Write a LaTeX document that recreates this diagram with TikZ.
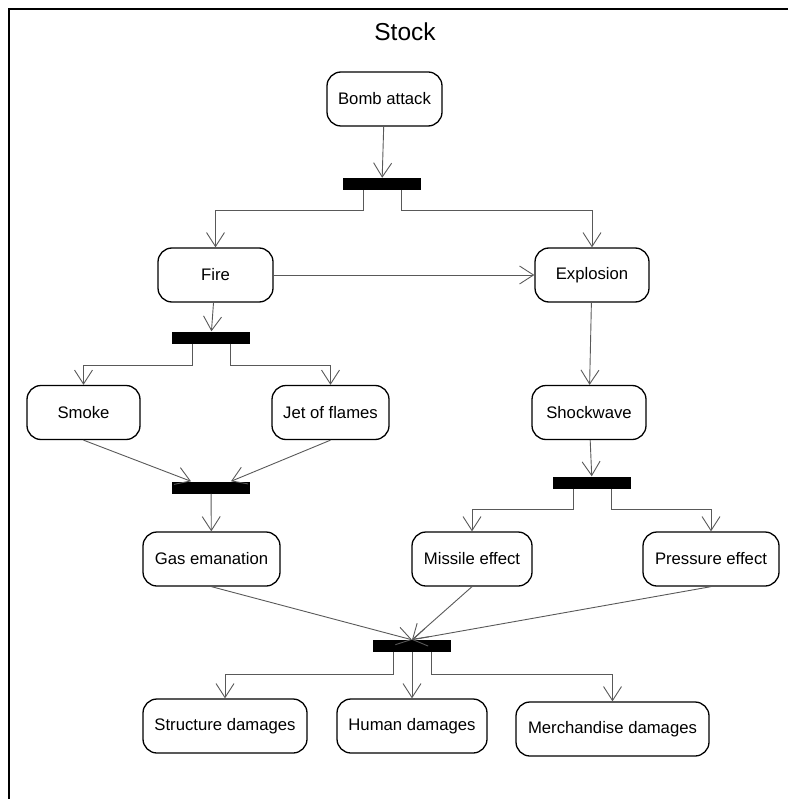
\documentclass[tikz,border=0pt]{standalone}
\usepackage{fontspec}
\setmainfont{Liberation Sans}
\usetikzlibrary{arrows.meta}
\tikzset{
action/.style=
    {rectangle,
    rounded corners=14pt,
    draw=black,
    line width=1.3pt,
    minimum height=54pt,
    inner sep=0pt,
    font=\fontsize{16.7}{19}\selectfont
    },
bar/.style=
    {rectangle,
    fill=black,
    minimum width=78pt,
    minimum height=12pt,
    inner sep=0pt
    },
flow/.style=
    {draw=black!65,
    line width=0.9pt,
    -{Straight Barb[length=14pt,width=18pt,line width=0.9pt]}
    }}

\begin{document}
\begin{tikzpicture}[x=1pt,y=-1pt]
\useasboundingbox (0,0) rectangle (788,799);
\draw[line width=2.5pt] (9,799) |- (788,9);
\node (title) at (405,32) {\fontsize{24.5}{28}\selectfont Stock};

% actions
\node[action,minimum width=115pt] (bomb) at (384.5,99) {Bomb attack};
\node[action,minimum width=115pt] (fire) at (215.5,275) {Fire};
\node[action,minimum width=114pt] (explosion) at (592,275) {Explosion};
\node[action,minimum width=113pt] (smoke) at (83.5,412.5) {Smoke};
\node[action,minimum width=117pt] (jet) at (330.5,412.5) {Jet of flames};
\node[action,minimum width=114pt] (shockwave) at (589,412.5) {Shockwave};
\node[action,minimum width=137pt] (gas) at (211.5,559) {Gas emanation};
\node[action,minimum width=120pt] (missile) at (472,559) {Missile effect};
\node[action,minimum width=136pt] (pressure) at (711,559) {Pressure effect};
\node[action,minimum width=164pt] (structure) at (225,726) {Structure damages};
\node[action,minimum width=150pt] (human) at (412,726) {Human damages};
\node[action,minimum width=193pt] (merchandise) at (612.5,729) {Merchandise damages};

% fork and join bars
\node[bar] (attackfork) at (382,184) {};
\node[bar] (firefork) at (211,337.5) {};
\node[bar] (gasjoin) at (211,487.5) {};
\node[bar] (shockfork) at (592,482.5) {};
\node[bar] (damagefork) at (412,646) {};

% connectors
\draw[flow] (bomb) -- (attackfork);
\draw[flow] ([xshift=-19pt]attackfork.south) -- ++(0,20) -| (fire.north);
\draw[flow] ([xshift=19pt]attackfork.south) -- ++(0,20) -| (explosion.north);
\draw[flow] (fire) -- (explosion);
\draw[flow] (fire) -- (firefork);
\draw[flow] ([xshift=-19pt]firefork.south) -- ++(0,22) -| (smoke.north);
\draw[flow] ([xshift=19pt]firefork.south) -- ++(0,22) -| (jet.north);
\draw[flow] (smoke.south) -- ([xshift=-20pt]gasjoin.north);
\draw[flow] (jet.south) -- ([xshift=20pt]gasjoin.north);
\draw[flow] (gasjoin) -- (gas);
\draw[flow] (explosion) -- (shockwave);
\draw[flow] (shockwave) -- (shockfork);
\draw[flow] ([xshift=-19pt]shockfork.south) -- ++(0,21) -| (missile.north);
\draw[flow] ([xshift=19pt]shockfork.south) -- ++(0,21) -| (pressure.north);
\draw[flow] (gas.south) -- (damagefork.north);
\draw[flow] (missile.south) -- (damagefork.north);
\draw[flow] (pressure.south) -- (damagefork.north);
\draw[flow] ([xshift=-19pt]damagefork.south) -- ++(0,22) -| (structure.north);
\draw[flow] (damagefork) -- (human);
\draw[flow] ([xshift=19pt]damagefork.south) -- ++(0,22) -| (merchandise.north);

\end{tikzpicture}
\end{document}
